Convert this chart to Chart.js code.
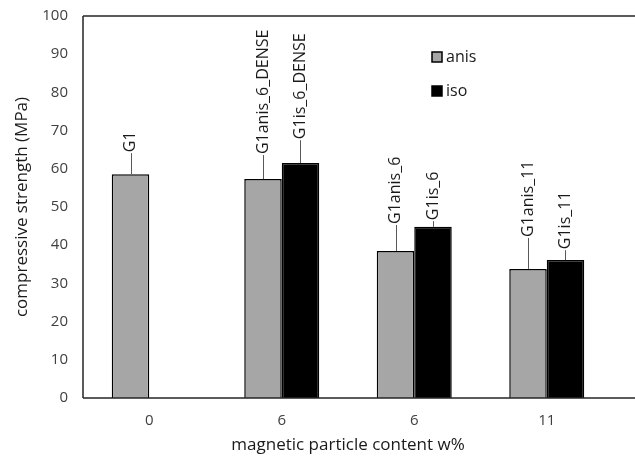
<!DOCTYPE html>
<html>
<head>
<meta charset="utf-8">
<script src="https://cdn.jsdelivr.net/npm/chart.js@4"></script>
<style>
  html, body { margin: 0; padding: 0; background: #fff; }
  #wrap { width: 635px; height: 459px; }
</style>
</head>
<body>
<div id="wrap"><canvas id="strengthChart" width="635" height="459"></canvas></div>
<script>
const categories = ['0', '6', '6', '11'];
const anisValues = [58.6, 57.3, 38.5, 33.8];
const isoValues = [null, 61.5, 44.8, 36.1];
const anisErrors = [5.5, 6.3, 6.8, 8.1];
const isoErrors = [null, 6.0, 1.5, 2.6];
const anisNames = ['G1', 'G1anis_6_DENSE', 'G1anis_6', 'G1anis_11'];
const isoNames = [null, 'G1is_6_DENSE', 'G1is_6', 'G1is_11'];
const yTicks = [0, 10, 20, 30, 40, 50, 60, 70, 80, 90, 100];

const fontFamily = '"Open Sans", "Noto Sans", sans-serif';

// error bars + rotated sample names above them
const errorLabelPlugin = {
    id: 'errorLabels',
    afterDatasetsDraw(chart) {
        const ctx = chart.ctx;
        const yScale = chart.scales.y;
        const extras = [
            { errors: anisErrors, names: anisNames },
            { errors: isoErrors, names: isoNames }
        ];
        extras.forEach((ex, di) => {
            const meta = chart.getDatasetMeta(di);
            const values = chart.data.datasets[di].data;
            meta.data.forEach((bar, i) => {
                if (values[i] == null) return;
                const yBase = yScale.getPixelForValue(values[i]);
                const yTop = yScale.getPixelForValue(values[i] + ex.errors[i]);
                ctx.save();
                ctx.strokeStyle = '#595959';
                ctx.lineWidth = 1;
                ctx.beginPath();
                ctx.moveTo(Math.round(bar.x) + 0.5, yBase);
                ctx.lineTo(Math.round(bar.x) + 0.5, yTop);
                ctx.stroke();
                ctx.translate(bar.x, yTop - 1);
                ctx.rotate(-Math.PI / 2);
                ctx.fillStyle = '#1a1a1a';
                ctx.font = '16px ' + fontFamily;
                ctx.textAlign = 'left';
                ctx.textBaseline = 'middle';
                ctx.fillText(ex.names[i], 0, 0);
                ctx.restore();
            });
        });
    }
};

// frame lines and the in-plot legend
const framePlugin = {
    id: 'frame',
    afterDraw(chart) {
        const ctx = chart.ctx;
        const area = chart.chartArea;
        ctx.save();
        ctx.strokeStyle = '#262626';
        ctx.lineWidth = 1.5;
        ctx.beginPath();
        ctx.moveTo(area.left, area.top);
        ctx.lineTo(chart.width, area.top);
        ctx.moveTo(area.left, area.bottom);
        ctx.lineTo(chart.width, area.bottom);
        ctx.moveTo(area.left, area.top);
        ctx.lineTo(area.left, area.bottom);
        ctx.stroke();

        const items = chart.data.datasets.map(ds => ({ label: ds.label, color: ds.backgroundColor }));
        ctx.font = '16px ' + fontFamily;
        ctx.textBaseline = 'middle';
        items.forEach((it, k) => {
            const y = 57 + k * 34;
            ctx.fillStyle = it.color;
            ctx.fillRect(432, y - 5, 10, 10);
            ctx.strokeStyle = '#000';
            ctx.lineWidth = 1.5;
            ctx.strokeRect(432, y - 5, 10, 10);
            ctx.fillStyle = '#1a1a1a';
            ctx.fillText(it.label, 446, y);
        });
        ctx.restore();
    }
};

new Chart(document.getElementById('strengthChart'), {
    type: 'bar',
    data: {
        labels: categories,
        datasets: [
            { label: 'anis', data: anisValues, backgroundColor: '#a6a6a6', borderColor: '#000', borderWidth: 1.5 },
            { label: 'iso', data: isoValues, backgroundColor: '#000000', borderColor: '#000', borderWidth: 1.5 }
        ]
    },
    options: {
        responsive: false,
        animation: false,
        layout: { padding: { top: 16, right: 22, left: 0, bottom: 0 } },
        datasets: { bar: { barPercentage: 1, categoryPercentage: 0.566 } },
        plugins: { legend: { display: false }, tooltip: { enabled: false } },
        scales: {
            x: {
                grid: { display: false, drawTicks: false },
                border: { display: false },
                ticks: { color: '#404040', font: { size: 15, family: fontFamily }, padding: 14 },
                title: { display: true, text: 'magnetic particle content w%', color: '#1a1a1a', font: { size: 17, family: fontFamily }, padding: { top: 0 } },
                afterFit: scale => { scale.height = 61; scale.paddingLeft = 0; scale.paddingRight = 0; }
            },
            y: {
                min: 0,
                max: 100,
                afterBuildTicks: scale => { scale.ticks = yTicks.map(v => ({ value: v })); },
                grid: { display: false, drawTicks: false },
                border: { display: false },
                ticks: { color: '#404040', font: { size: 15, family: fontFamily }, padding: 15 },
                title: { display: true, text: 'compressive strength (MPa)', color: '#1a1a1a', font: { size: 17, family: fontFamily }, padding: { top: 12, bottom: 0 } },
                afterFit: scale => { scale.width = 83; scale.paddingTop = 0; scale.paddingBottom = 0; }
            }
        }
    },
    plugins: [errorLabelPlugin, framePlugin]
});
</script>
</body>
</html>
